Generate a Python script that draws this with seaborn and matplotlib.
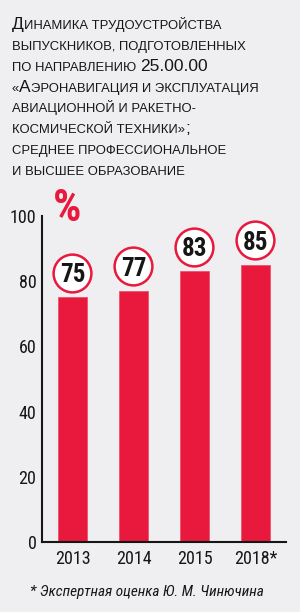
import matplotlib
matplotlib.use('Agg')
import matplotlib.pyplot as plt
import seaborn as sns
import pandas as pd

years = ['2013', '2014', '2015', '2018*']
share = [75, 77, 83, 85]

title_lines = [
    [('Д', 'big'), ('инамика трудоустройства', 'small')],
    [('выпускников, подготовленных', 'small')],
    [('по направлению ', 'small'), ('25.00.00', 'big')],
    [('«', 'small'), ('А', 'big'), ('эронавигация и эксплуатация', 'small')],
    [('авиационной и ракетно-', 'small')],
    [('космической техники»', 'small'), (';', 'big')],
    [('среднее профессиональное', 'small')],
    [('и высшее образование', 'small')],
]
note = '* Экспертная оценка Ю. М. Чинючина'

bg = '#efeff1'
red = '#e8193c'
ink = '#161616'
cond = ['Roboto Condensed', 'DejaVu Sans']

sns.set_style('white')
plt.rcParams['font.family'] = ['Liberation Sans', 'DejaVu Sans']

df = pd.DataFrame({'year': years, 'share': share})

fig = plt.figure(figsize=(3.0, 6.12), dpi=100, facecolor=bg)
ax = fig.add_axes([0.14, 0.1144, 0.8133, 0.5327])
ax.set_facecolor(bg)

sns.barplot(data=df, x='year', y='share', color=red, width=0.49,
            saturation=1, ax=ax, edgecolor='#f0506a', linewidth=0.6)

ax.set_xlim(-0.5, 3.5)
ax.set_ylim(0, 100)
ax.set_xlabel('')
ax.set_ylabel('')
for s in ['top', 'right']:
    ax.spines[s].set_visible(False)
for s in ['left', 'bottom']:
    ax.spines[s].set_color(ink)
    ax.spines[s].set_linewidth(1.5)

ax.set_yticks([0, 20, 40, 60, 80, 100])
ax.tick_params(axis='y', direction='in', length=3, width=1, color=ink,
               pad=4, labelsize=13)
ax.tick_params(axis='x', length=0, pad=6, labelsize=13)
ax.set_xticks([0.5, 1.5, 2.5, 3.5], minor=True)
ax.tick_params(axis='x', which='minor', direction='in', length=4, width=1,
               color='#333333')
for lab in ax.get_yticklabels() + ax.get_xticklabels():
    lab.set_family(cond)
    lab.set_color(ink)

# value circles above bars
off = 7.6
ax.scatter(range(len(share)), [v + off for v in share], s=740, marker='o',
           facecolor='white', edgecolor=red, linewidths=1.8, zorder=3,
           clip_on=False)
for i, v in enumerate(share):
    ax.text(i, v + off, str(v), ha='center', va='center_baseline',
            fontsize=18, fontweight='bold', family=cond,
            color=ink, zorder=4)

ax.text(0.103, 1.022, '%', transform=ax.transAxes, family=cond,
        fontsize=32, fontweight='bold', color=red, ha='center', va='center',
        clip_on=False)

# title with small-caps look
renderer = fig.canvas.get_renderer()
base = [29, 50, 71, 92, 112, 133, 154, 175]
H = 612.0
for line, yb in zip(title_lines, base):
    x = 12
    for txt, kind in line:
        if kind == 'big':
            t = fig.text(x / 300, 1 - yb / H, txt, fontsize=12.5, va='baseline',
                         color=ink)
        else:
            t = fig.text(x / 300, 1 - yb / H, txt.upper(), fontsize=9.4,
                         va='baseline', color=ink)
        x = t.get_window_extent(renderer).x1

fig.text(0.49, 1 - 592 / H, note, ha='center', va='center', family=cond,
         fontsize=11, style='italic', color=ink)

fig.savefig('out.png', dpi=100, facecolor=bg)
